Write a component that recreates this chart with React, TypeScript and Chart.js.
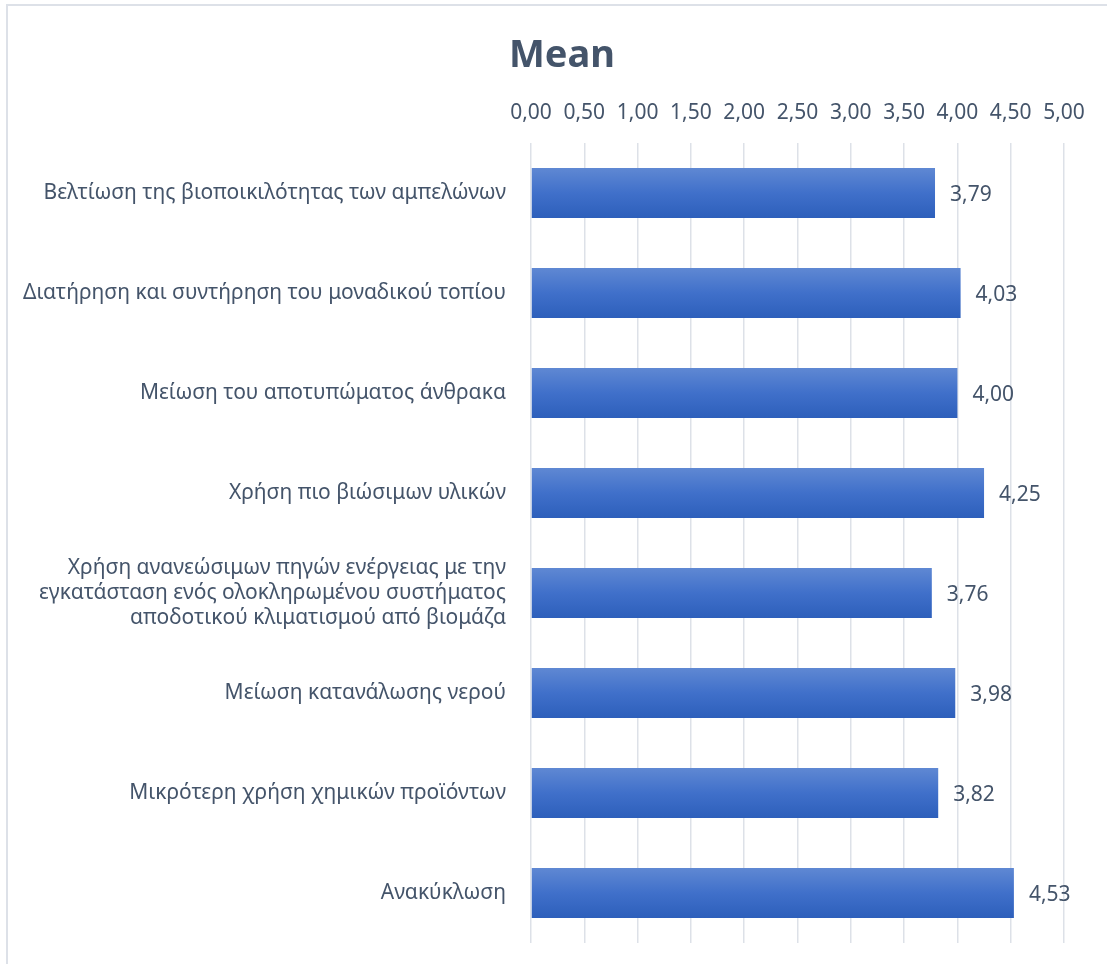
import React, { useEffect, useRef } from "react";
import { Chart, registerables } from "chart.js";

Chart.register(...registerables);

const categories: (string | string[])[] = [
  "Βελτίωση της βιοποικιλότητας των αμπελώνων",
  "Διατήρηση και συντήρηση του μοναδικού τοπίου",
  "Μείωση του αποτυπώματος άνθρακα",
  "Χρήση πιο βιώσιμων υλικών",
  [
    "Χρήση ανανεώσιμων πηγών ενέργειας με την",
    "εγκατάσταση ενός ολοκληρωμένου συστήματος",
    "αποδοτικού κλιματισμού από βιομάζα",
  ],
  "Μείωση κατανάλωσης νερού",
  "Μικρότερη χρήση χημικών προϊόντων",
  "Ανακύκλωση",
];

const meanValues: number[] = [3.79, 4.03, 4.0, 4.25, 3.76, 3.98, 3.82, 4.53];

const axisMin = 0;
const axisMax = 5;
const axisStep = 0.5;

const TEXT = "#44546A";
const FONT = "'Noto Sans', 'DejaVu Sans', sans-serif";

const fmt = (v: number) => v.toFixed(2).replace(".", ",");

const valueLabels = {
  id: "valueLabels",
  afterDatasetsDraw(chart: any) {
    const ctx = chart.ctx;
    const meta = chart.getDatasetMeta(0);
    ctx.save();
    ctx.fillStyle = TEXT;
    ctx.font = `21px ${FONT}`;
    ctx.textAlign = "left";
    ctx.textBaseline = "middle";
    meta.data.forEach((bar: any, i: number) => {
      ctx.fillText(fmt(meanValues[i]), bar.x + 15, bar.y + 2);
    });
    ctx.restore();
  },
};

export default function App() {
  const ref = useRef<HTMLCanvasElement | null>(null);

  useEffect(() => {
    if (!ref.current) return;
    const chart = new Chart(ref.current, {
      type: "bar",
      data: {
        labels: categories,
        datasets: [
          {
            label: "Mean",
            data: meanValues,
            barPercentage: 0.5,
            categoryPercentage: 1.0,
            borderWidth: 0,
            backgroundColor: (c: any) => {
              const chart = c.chart;
              const ys = chart.scales?.y;
              if (!ys || c.type !== "data") return "#4472C4";
              const center = ys.getPixelForValue(c.dataIndex);
              const step = Math.abs(ys.getPixelForValue(1) - ys.getPixelForValue(0));
              const half = step * 0.25;
              if (!isFinite(center) || !isFinite(half) || half <= 0) return "#4472C4";
              const g = chart.ctx.createLinearGradient(0, center - half, 0, center + half);
              g.addColorStop(0, "#5F88D3");
              g.addColorStop(0.5, "#4070CA");
              g.addColorStop(1, "#2D5FBB");
              return g;
            },
          },
        ],
      },
      options: {
        indexAxis: "y",
        animation: false,
        responsive: false,
        maintainAspectRatio: false,
        layout: { padding: { top: 0, right: 0, bottom: 21, left: 17 } },
        plugins: {
          legend: { display: false },
          tooltip: { enabled: false },
          title: {
            display: true,
            text: "Mean",
            color: TEXT,
            font: { family: FONT, size: 38, weight: "bold" },
            padding: { top: 33, bottom: 0 },
          },
        },
        scales: {
          x: {
            position: "top",
            min: axisMin,
            max: axisMax,
            ticks: {
              stepSize: axisStep,
              color: TEXT,
              font: { family: FONT, size: 21 },
              padding: 17,
              callback: (v: any) => fmt(Number(v)),
            },
            grid: { color: "#DDE1E8", lineWidth: 1.5, drawTicks: false },
            border: { display: false },
            afterFit: (s: any) => {
              s.height = 64.4;
              s.paddingLeft = 0;
              s.paddingRight = 43;
            },
          },
          y: {
            ticks: {
              color: TEXT,
              font: { family: FONT, size: 21, lineHeight: 1.18 },
              padding: 25,
            },
            grid: { display: false, drawTicks: false },
            border: { display: false },
            afterFit: (s: any) => {
              s.width = 514;
              s.paddingTop = 0;
              s.paddingBottom = 0;
            },
          },
        },
      },
      plugins: [valueLabels],
    } as any);
    return () => chart.destroy();
  }, []);

  return (
    <div style={{ position: "fixed", left: 0, top: 0, width: 1107, height: 964, overflow: "hidden", background: "#fff" }}>
      <div
        style={{
          position: "absolute",
          left: 6,
          top: 4,
          width: 1120,
          height: 980,
          border: "2px solid #DDE1E8",
          boxSizing: "border-box",
        }}
      />
      <canvas ref={ref} width={1107} height={964} style={{ position: "absolute", left: 0, top: 0 }} />
    </div>
  );
}
